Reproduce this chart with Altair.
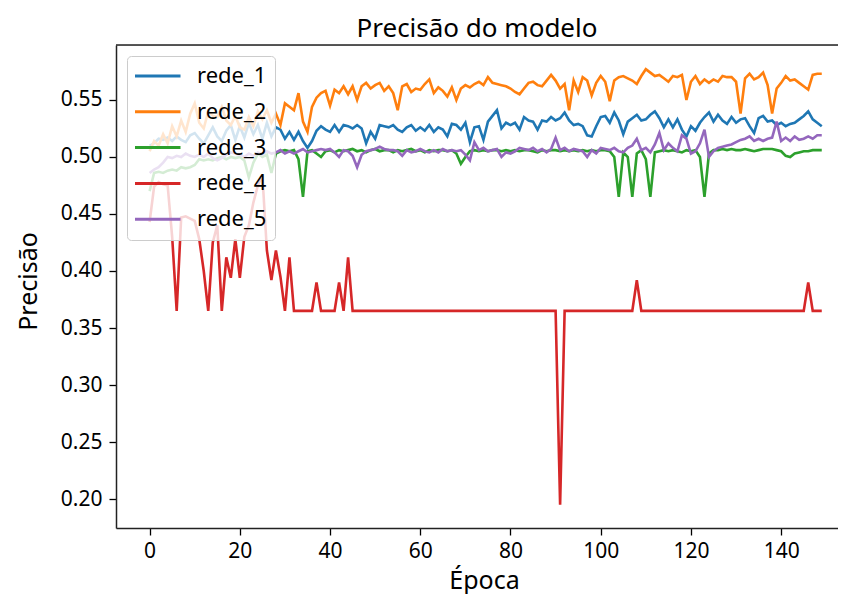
import altair as alt
import pandas as pd

epochs = list(range(150))

series_names = ["rede_1", "rede_2", "rede_3", "rede_4", "rede_5"]
colors = ["#1f77b4", "#ff7f0e", "#2ca02c", "#d62728", "#9467bd"]

rede_1 = [
    0.510, 0.512, 0.516, 0.515, 0.517, 0.514, 0.518, 0.515, 0.513, 0.519,
    0.521, 0.516, 0.512, 0.519, 0.526, 0.518, 0.514, 0.523, 0.528, 0.515,
    0.527, 0.517, 0.530, 0.520, 0.528, 0.516, 0.530, 0.518, 0.526, 0.524,
    0.516, 0.522, 0.515, 0.522, 0.514, 0.508, 0.514, 0.523, 0.527, 0.524,
    0.522, 0.528, 0.522, 0.528, 0.527, 0.525, 0.528, 0.525, 0.512, 0.522,
    0.516, 0.528, 0.527, 0.526, 0.528, 0.524, 0.522, 0.526, 0.528, 0.523,
    0.526, 0.523, 0.528, 0.522, 0.526, 0.524, 0.518, 0.529, 0.528, 0.524,
    0.530, 0.513, 0.526, 0.527, 0.515, 0.531, 0.536, 0.541, 0.525, 0.530,
    0.528, 0.530, 0.524, 0.535, 0.532, 0.531, 0.524, 0.532, 0.531, 0.535,
    0.532, 0.534, 0.539, 0.532, 0.528, 0.529, 0.527, 0.519, 0.518, 0.527,
    0.535, 0.536, 0.530, 0.539, 0.532, 0.520, 0.531, 0.534, 0.537, 0.532,
    0.533, 0.537, 0.540, 0.534, 0.526, 0.533, 0.526, 0.533, 0.524, 0.518,
    0.527, 0.523, 0.530, 0.535, 0.539, 0.531, 0.537, 0.532, 0.529, 0.535,
    0.530, 0.533, 0.534, 0.527, 0.521, 0.534, 0.536, 0.531, 0.532, 0.528,
    0.530, 0.527, 0.529, 0.530, 0.533, 0.536, 0.540, 0.533, 0.530, 0.527,
]

rede_2 = [
    0.505, 0.514, 0.510, 0.520, 0.512, 0.527, 0.518, 0.532, 0.522, 0.538,
    0.547, 0.530, 0.525, 0.540, 0.536, 0.535, 0.544, 0.532, 0.528, 0.536,
    0.526, 0.524, 0.535, 0.527, 0.540, 0.533, 0.541, 0.530, 0.538, 0.528,
    0.547, 0.544, 0.541, 0.556, 0.531, 0.522, 0.544, 0.552, 0.556, 0.558,
    0.545, 0.559, 0.556, 0.562, 0.555, 0.562, 0.550, 0.562, 0.565, 0.560,
    0.563, 0.565, 0.558, 0.562, 0.556, 0.541, 0.562, 0.564, 0.557, 0.560,
    0.559, 0.564, 0.568, 0.556, 0.561, 0.558, 0.553, 0.561, 0.550, 0.560,
    0.563, 0.561, 0.564, 0.566, 0.563, 0.570, 0.565, 0.564, 0.563, 0.562,
    0.560, 0.557, 0.555, 0.560, 0.565, 0.566, 0.563, 0.562, 0.567, 0.572,
    0.567, 0.560, 0.564, 0.541, 0.567, 0.557, 0.570, 0.567, 0.554, 0.565,
    0.571, 0.566, 0.549, 0.567, 0.570, 0.571, 0.569, 0.567, 0.564, 0.571,
    0.577, 0.574, 0.571, 0.572, 0.569, 0.566, 0.571, 0.570, 0.572, 0.550,
    0.566, 0.571, 0.564, 0.568, 0.565, 0.568, 0.566, 0.571, 0.570, 0.570,
    0.566, 0.538, 0.569, 0.573, 0.568, 0.570, 0.574, 0.563, 0.538, 0.560,
    0.565, 0.571, 0.567, 0.568, 0.565, 0.562, 0.559, 0.572, 0.573, 0.573,
]

rede_3 = [
    0.470, 0.486, 0.487, 0.486, 0.488, 0.489, 0.488, 0.491, 0.490, 0.491,
    0.493, 0.498, 0.497, 0.498, 0.497, 0.499, 0.500, 0.498, 0.500, 0.499,
    0.500, 0.497, 0.482, 0.495, 0.503, 0.500, 0.502, 0.486, 0.503, 0.505,
    0.506, 0.505, 0.506, 0.498, 0.465, 0.505, 0.506, 0.503, 0.500, 0.505,
    0.506, 0.504, 0.506, 0.505, 0.506, 0.507, 0.505, 0.506, 0.504, 0.506,
    0.507, 0.505, 0.506, 0.506, 0.504, 0.506, 0.505, 0.506, 0.507, 0.505,
    0.506, 0.504, 0.506, 0.505, 0.506, 0.506, 0.505, 0.506, 0.503, 0.494,
    0.500, 0.505, 0.506, 0.505, 0.506, 0.505, 0.506, 0.506, 0.505, 0.506,
    0.505, 0.506, 0.505, 0.506, 0.506, 0.505, 0.504, 0.506, 0.505, 0.506,
    0.506, 0.505, 0.506, 0.505, 0.506, 0.505, 0.506, 0.505, 0.506, 0.505,
    0.506, 0.506, 0.505, 0.500, 0.465, 0.504, 0.500, 0.465, 0.503, 0.506,
    0.498, 0.465, 0.504, 0.505, 0.506, 0.505, 0.506, 0.505, 0.504, 0.506,
    0.505, 0.506, 0.500, 0.465, 0.503, 0.506, 0.506, 0.507, 0.506, 0.507,
    0.506, 0.506, 0.507, 0.506, 0.505, 0.506, 0.507, 0.507, 0.507, 0.506,
    0.505, 0.501, 0.500, 0.503, 0.504, 0.505, 0.505, 0.506, 0.506, 0.506,
]

rede_4 = [
    0.443, 0.474, 0.478, 0.476, 0.475, 0.430, 0.365, 0.447, 0.448, 0.446,
    0.444, 0.428, 0.400, 0.365, 0.425, 0.440, 0.365, 0.412, 0.394, 0.428,
    0.394, 0.430, 0.440, 0.460, 0.475, 0.484, 0.418, 0.392, 0.418, 0.395,
    0.365, 0.412, 0.365, 0.365, 0.365, 0.365, 0.365, 0.390, 0.365, 0.365,
    0.365, 0.365, 0.390, 0.365, 0.412, 0.365, 0.365, 0.365, 0.365, 0.365,
    0.365, 0.365, 0.365, 0.365, 0.365, 0.365, 0.365, 0.365, 0.365, 0.365,
    0.365, 0.365, 0.365, 0.365, 0.365, 0.365, 0.365, 0.365, 0.365, 0.365,
    0.365, 0.365, 0.365, 0.365, 0.365, 0.365, 0.365, 0.365, 0.365, 0.365,
    0.365, 0.365, 0.365, 0.365, 0.365, 0.365, 0.365, 0.365, 0.365, 0.365,
    0.365, 0.195, 0.365, 0.365, 0.365, 0.365, 0.365, 0.365, 0.365, 0.365,
    0.365, 0.365, 0.365, 0.365, 0.365, 0.365, 0.365, 0.365, 0.392, 0.365,
    0.365, 0.365, 0.365, 0.365, 0.365, 0.365, 0.365, 0.365, 0.365, 0.365,
    0.365, 0.365, 0.365, 0.365, 0.365, 0.365, 0.365, 0.365, 0.365, 0.365,
    0.365, 0.365, 0.365, 0.365, 0.365, 0.365, 0.365, 0.365, 0.365, 0.365,
    0.365, 0.365, 0.365, 0.365, 0.365, 0.365, 0.390, 0.365, 0.365, 0.365,
]

rede_5 = [
    0.486, 0.489, 0.491, 0.495, 0.500, 0.499, 0.501, 0.500, 0.503, 0.501,
    0.500, 0.502, 0.500, 0.503, 0.499, 0.497, 0.499, 0.502, 0.504, 0.503,
    0.502, 0.500, 0.503, 0.501, 0.504, 0.502, 0.505, 0.503, 0.504, 0.506,
    0.503, 0.505, 0.503, 0.505, 0.507, 0.504, 0.505, 0.506, 0.507, 0.506,
    0.507, 0.504, 0.500, 0.506, 0.505, 0.501, 0.491, 0.502, 0.505, 0.506,
    0.507, 0.509, 0.507, 0.506, 0.506, 0.505, 0.501, 0.506, 0.504, 0.505,
    0.507, 0.505, 0.504, 0.506, 0.504, 0.507, 0.505, 0.506, 0.505, 0.506,
    0.502, 0.497, 0.513, 0.506, 0.508, 0.505, 0.506, 0.507, 0.500, 0.504,
    0.503, 0.505, 0.508, 0.507, 0.506, 0.508, 0.505, 0.507, 0.504, 0.507,
    0.517, 0.506, 0.508, 0.505, 0.507, 0.506, 0.505, 0.500, 0.506, 0.503,
    0.508, 0.507, 0.506, 0.508, 0.505, 0.504, 0.508, 0.510, 0.516, 0.506,
    0.508, 0.504, 0.511, 0.521, 0.506, 0.512, 0.508, 0.505, 0.519, 0.516,
    0.503, 0.505, 0.512, 0.524, 0.500, 0.505, 0.508, 0.509, 0.510, 0.511,
    0.513, 0.515, 0.516, 0.518, 0.514, 0.516, 0.514, 0.516, 0.517, 0.531,
    0.514, 0.517, 0.514, 0.518, 0.515, 0.516, 0.518, 0.516, 0.519, 0.519,
]

x_ticks = [0, 20, 40, 60, 80, 100, 120, 140]
y_ticks = [0.20, 0.25, 0.30, 0.35, 0.40, 0.45, 0.50, 0.55]

rows = []
for name, vals in zip(series_names, [rede_1, rede_2, rede_3, rede_4, rede_5]):
    for e, v in zip(epochs, vals):
        rows.append({"epoca": e, "precisao": v, "serie": name})
df = pd.DataFrame(rows)

FONT = "Noto Sans"
W, H = 722, 483

lines = alt.Chart(df).mark_line(strokeWidth=2.6, clip=True).encode(
    x=alt.X(
        "epoca:Q",
        scale=alt.Scale(domain=[-7.45, 152.6], nice=False, zero=False),
        axis=alt.Axis(
            title="Época", values=x_ticks, format="d", grid=False,
            labelFont=FONT, labelFontSize=21, labelColor="#000",
            labelPadding=5, tickSize=7, tickWidth=1.3, tickColor="#000",
            domainColor="#222", domainWidth=1.5,
            titleFont=FONT, titleFontSize=25, titleFontWeight="normal",
            titleColor="#000", titleBaseline="alphabetic", titleY=60, titleX=368,
        ),
    ),
    y=alt.Y(
        "precisao:Q",
        scale=alt.Scale(domain=[0.1746, 0.5982], nice=False, zero=False),
        axis=alt.Axis(
            title="Precisão", values=y_ticks, format=".2f", grid=False,
            labelFont=FONT, labelFontSize=21, labelColor="#000",
            labelPadding=7, tickSize=7, tickWidth=1.3, tickColor="#000",
            domainColor="#222", domainWidth=1.5,
            titleFont=FONT, titleFontSize=25, titleFontWeight="normal",
            titleColor="#000", titleBaseline="alphabetic", titleX=-80, titleY=236,
        ),
    ),
    color=alt.Color(
        "serie:N",
        scale=alt.Scale(domain=series_names, range=colors),
        legend=alt.Legend(
            title=None, orient="none", legendX=11, legendY=11,
            symbolType="stroke", symbolSize=2304, symbolStrokeWidth=3,
            symbolOffset=-4,
            clipHeight=24, rowPadding=11.8, padding=8, labelOffset=15,
            labelFont=FONT, labelFontSize=22, labelColor="#000",
            fillColor="rgba(255,255,255,0.8)", strokeColor="#cccccc",
            cornerRadius=4,
        ),
    ),
)

spine = alt.Chart(pd.DataFrame({"k": [0]})).mark_rule(
    color="#222", strokeWidth=1.5
).encode(x=alt.value(0), x2=alt.value(W), y=alt.value(0))

chart = alt.layer(lines, spine).properties(
    width=W, height=H,
    title=alt.TitleParams(
        "Precisão do modelo", font=FONT, fontSize=26, fontWeight="normal",
        color="#000", anchor="middle", offset=2,
    ),
    autosize=alt.AutoSizeParams(type="none"),
    padding={"left": 108, "top": 37, "right": 0, "bottom": 66},
).configure_view(stroke=None).configure(background="white")

chart.save("out.html", embed_options={"renderer": "svg", "actions": False})
